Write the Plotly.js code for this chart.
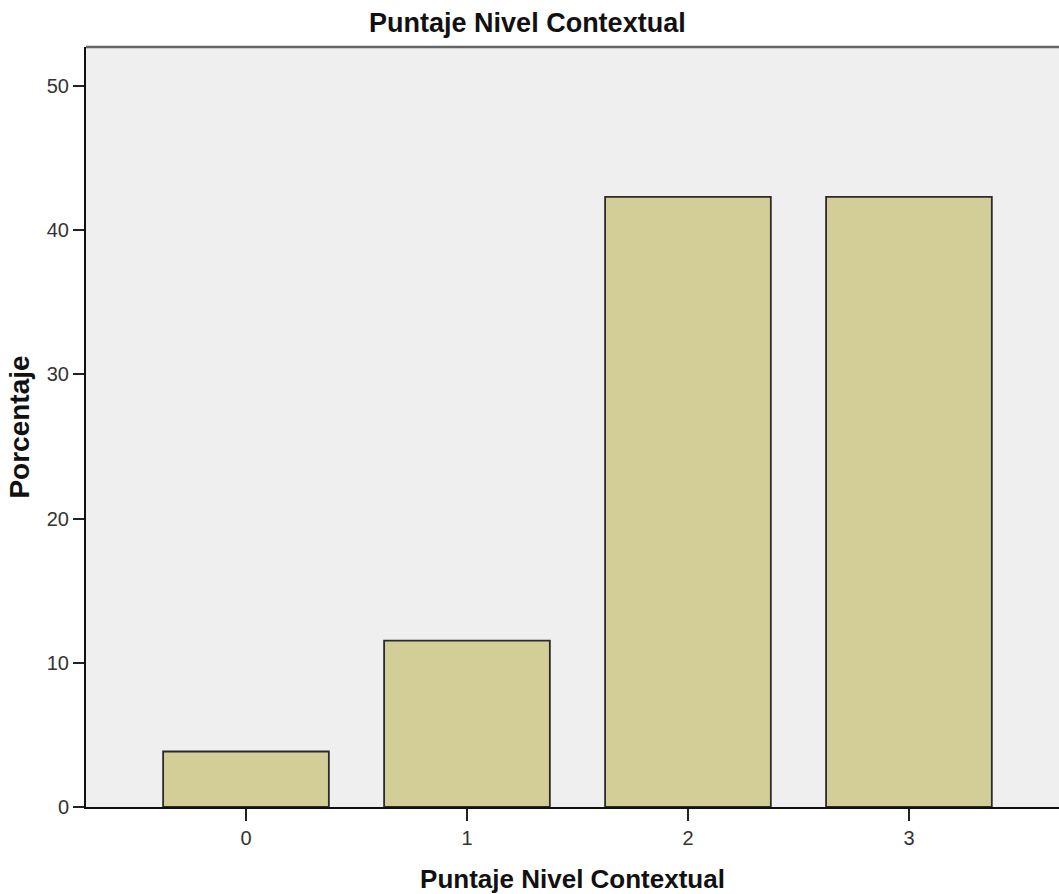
<!DOCTYPE html>
<html>
<head>
<meta charset="utf-8">
<script src="https://cdn.plot.ly/plotly-3.0.1.min.js"></script>
<style>html,body{margin:0;padding:0;background:#fff}#chart{width:1059px;height:894px}</style>
</head>
<body>
<div id="chart"></div>
<script>
const categories = [0, 1, 2, 3];
const tickLabels = ["0", "1", "2", "3"];
const percentages = [3.85, 11.54, 42.31, 42.31];
const yTicks = [0, 10, 20, 30, 40, 50];

const trace = {
  type: 'bar',
  x: categories,
  y: percentages,
  width: 0.75,
  marker: {color: '#d3ce97', line: {color: '#2b2b2b', width: 1.8}},
  hoverinfo: 'x+y'
};

const layout = {
  width: 1059, height: 894,
  margin: {l: 86, r: 0, t: 47, b: 87},
  paper_bgcolor: '#ffffff',
  plot_bgcolor: '#efefef',
  font: {family: 'Liberation Sans, Arial, sans-serif', color: '#222'},
  title: {text: '<b>Puntaje Nivel Contextual</b>', x: 0.498, xref: 'container', xanchor: 'center', y: 0.975, yref: 'container', yanchor: 'middle', font: {size: 27, color: '#111'}},
  xaxis: {
    range: [-0.724, 3.679],
    tickvals: categories, ticktext: tickLabels,
    ticks: 'outside', ticklen: 12, tickwidth: 2, tickcolor: '#222',
    showline: true, linecolor: '#111', linewidth: 2,
    showgrid: false, zeroline: false,
    tickfont: {size: 20, color: '#333'},
    title: {text: '<b>Puntaje Nivel Contextual</b>', font: {size: 26, color: '#111'}, standoff: 23}
  },
  yaxis: {
    range: [0, 52.7],
    tickvals: yTicks,
    ticks: 'outside', ticklen: 11, tickwidth: 2, tickcolor: '#222',
    showline: true, linecolor: '#111', linewidth: 2,
    showgrid: false, zeroline: false,
    tickfont: {size: 20, color: '#333'},
    title: {text: '<b>Porcentaje</b>', font: {size: 28, color: '#111'}, standoff: 9}
  },
  shapes: [{type: 'line', xref: 'paper', yref: 'paper', x0: 0, x1: 1, y0: 1, y1: 1, line: {color: '#666', width: 2.5}}],
  showlegend: false
};

Plotly.newPlot('chart', [trace], layout, {displayModeBar: false, staticPlot: true});
</script>
</body>
</html>
